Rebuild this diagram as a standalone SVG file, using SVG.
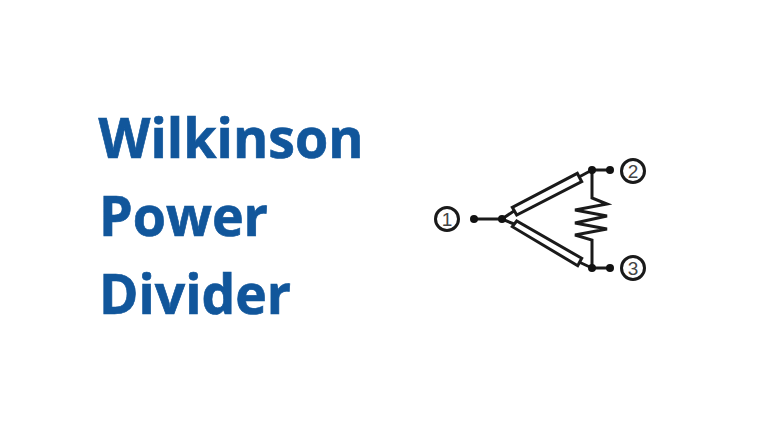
<svg xmlns="http://www.w3.org/2000/svg" width="768" height="432" viewBox="0 0 768 432">
<style>
.t{font-family:"Open Sans","Noto Sans","Liberation Sans",sans-serif;font-weight:700;font-size:56px;fill:#11569b;stroke:#11569b;stroke-width:.7}
.w{fill:none;stroke:#1a1a1a;stroke-width:3}
.d{fill:#111}
.c{fill:#fff;stroke:#1a1a1a;stroke-width:3}
.n{font-family:"Liberation Sans",sans-serif;font-size:19px;fill:#444;text-anchor:middle}
</style>
<rect width="768" height="432" fill="#fff"/>
<g id="title">
<text class="t" x="98.500" y="158" textLength="265" lengthAdjust="spacingAndGlyphs">Wilkinson</text>
<text class="t" x="99" y="236" textLength="169" lengthAdjust="spacingAndGlyphs">Power</text>
<text class="t" x="99" y="313.500" textLength="192" lengthAdjust="spacingAndGlyphs">Divider</text>
</g>
<g id="connectors">
<path class="w" d="M474 219H502M502 219L514 211M502 219L514 224M579 177L592 170M579 262L592 268M592 170H610M592 268H610M592 170V198L607 204L575 210L607 216L575 223L607 229L575 235L592 240V268"/>
</g>
<g id="line-upper"><polygon class="w" points="512.3,207.3 516.7,215 581.7,181.7 577.3,173.3"/></g>
<g id="line-lower"><polygon class="w" points="512.3,226.7 516.7,221 581.7,258.3 577.7,265.7"/></g>
<g id="junctions">
<circle class="d" cx="474" cy="219" r="4"/><circle class="d" cx="502" cy="219" r="4"/>
<circle class="d" cx="592" cy="170" r="4"/><circle class="d" cx="610" cy="170" r="4"/>
<circle class="d" cx="592" cy="268" r="4"/><circle class="d" cx="610" cy="268" r="4"/>
</g>
<g id="port-1"><circle class="c" cx="447" cy="219" r="11.5"/><text class="n" x="447" y="226">1</text></g>
<g id="port-2"><circle class="c" cx="633" cy="171" r="11.5"/><text class="n" x="633" y="178">2</text></g>
<g id="port-3"><circle class="c" cx="633" cy="268" r="11.5"/><text class="n" x="633" y="275">3</text></g>
</svg>
